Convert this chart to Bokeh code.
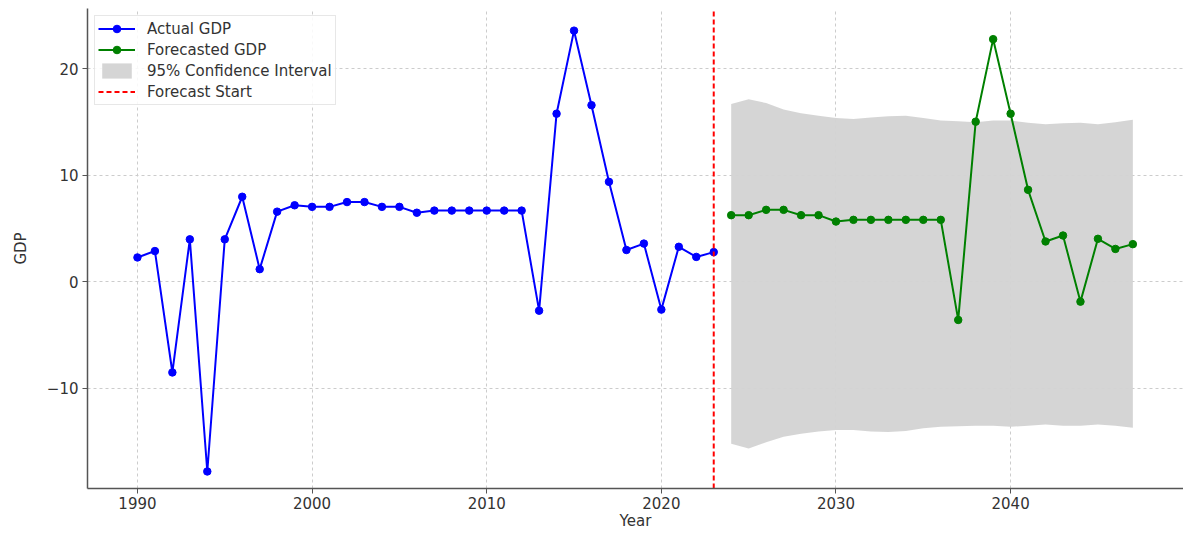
from bokeh.plotting import figure
from bokeh.models import Range1d, FixedTicker, ColumnDataSource, Legend, LegendItem
from bokeh.embed import file_html
from bokeh.resources import INLINE

actual_years = list(range(1990, 2024))
actual_gdp = [2.3, 2.9, -8.5, 4.0, -17.8, 4.0, 8.0, 1.2, 6.6, 7.2,
              7.05, 7.05, 7.5, 7.5, 7.05, 7.05, 6.5, 6.7, 6.7, 6.7,
              6.7, 6.7, 6.7, -2.7, 15.8, 23.6, 16.6, 9.4, 3.0, 3.6,
              -2.6, 3.3, 2.35, 2.8]

forecast_years = list(range(2024, 2048))
forecast_gdp = [6.27, 6.27, 6.77, 6.77, 6.27, 6.27, 5.67, 5.83, 5.83, 5.83,
                5.83, 5.83, 5.83, -3.57, 15.05, 22.8, 15.8, 8.65, 3.8, 4.36,
                -1.85, 4.05, 3.1, 3.55]
ci_upper = [16.7, 17.15, 16.8, 16.2, 15.85, 15.6, 15.4, 15.3, 15.45, 15.55,
            15.6, 15.4, 15.15, 15.1, 15.0, 15.15, 15.15, 14.96, 14.8, 14.9,
            14.96, 14.8, 15.0, 15.24]
ci_lower = [-15.2, -15.65, -15.05, -14.55, -14.25, -14.05, -13.9, -13.9, -14.05, -14.1,
            -14.0, -13.75, -13.6, -13.55, -13.5, -13.5, -13.6, -13.5, -13.4, -13.5,
            -13.5, -13.4, -13.5, -13.7]

forecast_start = 2023
x_ticks = [1990, 2000, 2010, 2020, 2030, 2040]
y_ticks = [-10, 0, 10, 20]
x_lo, x_hi = 1987.14, 2049.9
y_lo, y_hi = -19.4, 25.68

FONT = "DejaVu Sans"

p = figure(width=1183, height=532, output_backend="svg", toolbar_location=None,
           x_range=Range1d(x_lo, x_hi), y_range=Range1d(y_lo, y_hi),
           min_border_left=87, min_border_top=8, min_border_right=0, min_border_bottom=40)

p.outline_line_color = None
p.background_fill_color = "white"
p.border_fill_color = "white"

ci = p.varea(x=forecast_years, y1=ci_lower, y2=ci_upper, fill_color="#d3d3d3", fill_alpha=0.95)

act_src = ColumnDataSource(dict(x=actual_years, y=actual_gdp))
fc_src = ColumnDataSource(dict(x=forecast_years, y=forecast_gdp))
a_line = p.line("x", "y", source=act_src, line_color="#0000ff", line_width=2)
a_pts = p.scatter("x", "y", source=act_src, size=7.5, fill_color="#0000ff", line_color="#0000ff")
f_line = p.line("x", "y", source=fc_src, line_color="#008000", line_width=2)
f_pts = p.scatter("x", "y", source=fc_src, size=7.5, fill_color="#008000", line_color="#008000")

start_line = p.line(x=[forecast_start, forecast_start], y=[y_lo, y_hi],
                    line_color="#ff0000", line_dash="5 3", line_width=2)

legend = Legend(items=[
    LegendItem(label="Actual GDP", renderers=[a_line, a_pts]),
    LegendItem(label="Forecasted GDP", renderers=[f_line, f_pts]),
    LegendItem(label="95% Confidence Interval", renderers=[ci]),
    LegendItem(label="Forecast Start", renderers=[start_line]),
], location="top_left")
legend.label_text_font = FONT
legend.label_text_font_size = "15px"
legend.label_text_color = "#333333"
legend.label_height = 19
legend.glyph_height = 19
legend.glyph_width = 37
legend.label_standoff = 12
legend.spacing = 2
legend.padding = 3
legend.margin = 7
legend.border_line_color = "#d0d0d0"
legend.background_fill_alpha = 0.85
p.add_layout(legend)

for ax in (p.xaxis, p.yaxis):
    ax.axis_line_color = "#555555"
    ax.axis_line_width = 1.5
    ax.major_tick_line_color = "#555555"
    ax.major_tick_out = 5
    ax.major_tick_in = 0
    ax.minor_tick_line_color = None
    ax.major_label_text_font = FONT
    ax.major_label_text_font_size = "15px"
    ax.major_label_text_color = "#333333"
    ax.axis_label_text_font = FONT
    ax.axis_label_text_font_size = "15px"
    ax.axis_label_text_font_style = "normal"
    ax.axis_label_text_color = "#333333"

p.xaxis.ticker = FixedTicker(ticks=x_ticks)
p.yaxis.ticker = FixedTicker(ticks=y_ticks)
p.xaxis.axis_label = "Year"
p.yaxis.axis_label = "GDP"
p.xaxis.major_label_standoff = 3
p.xaxis.axis_label_standoff = 0
p.yaxis.major_label_standoff = 4
p.yaxis.axis_label_standoff = 14

p.grid.grid_line_color = "#cccccc"
p.grid.grid_line_dash = "3 3"
p.grid.grid_line_width = 1

open("out.html", "w").write(file_html(p, INLINE))
